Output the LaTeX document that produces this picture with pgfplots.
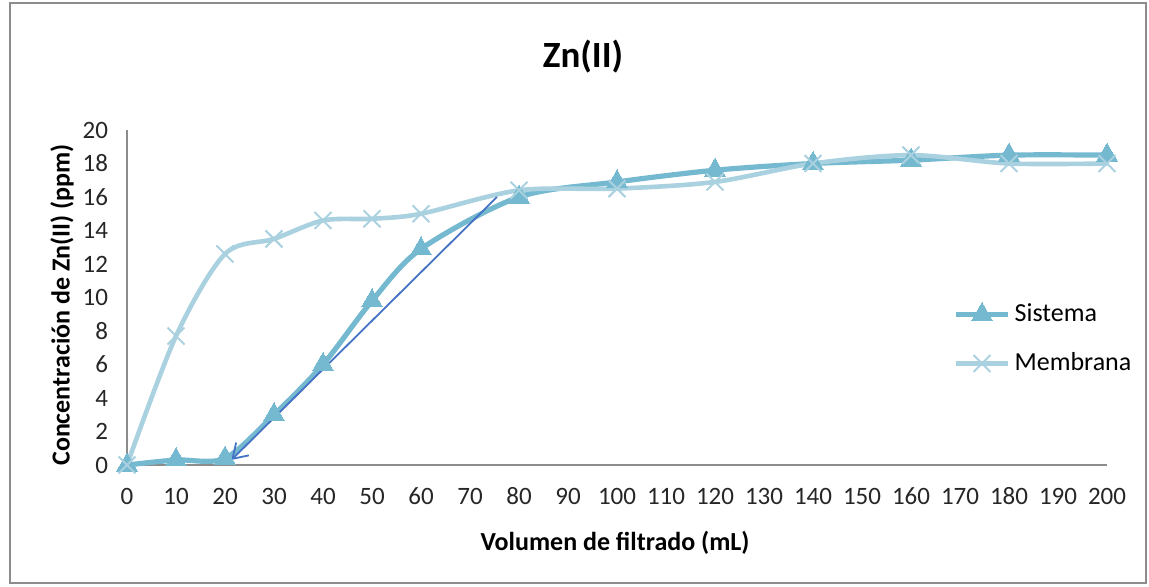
\documentclass[border=0pt]{standalone}
\usepackage{fontspec}
\setmainfont{Carlito}
\usepackage{pgfplots}
\pgfplotsset{compat=1.18}
\usetikzlibrary{arrows.meta}
\definecolor{sist}{HTML}{74B9CF}
\definecolor{memb}{HTML}{A9D1DF}
\definecolor{arr}{HTML}{4472C4}
\definecolor{axgray}{HTML}{8C8C8C}
\begin{document}
\begin{tikzpicture}
\useasboundingbox (-63.5pt,-60.5pt) rectangle (511pt,232.5pt);
\draw[axgray,line width=0.8pt] (-58.5pt,-59pt) rectangle (509.5pt,231pt);
\begin{axis}[
  at={(0pt,0pt)}, anchor=origin,
  scale only axis, width=490pt, height=167.5pt,
  xmin=0, xmax=200, ymin=0, ymax=20,
  xtick={0,10,...,200}, ytick={0,2,...,20},
  axis x line=bottom, axis y line=left,
  axis line style={axgray,line width=0.6pt,-},
  major tick length=0pt,
  /pgf/number format/assume math mode=true,
  ticklabel style={font=\fontsize{12.5}{13}\selectfont, text=black!85},
  xticklabel style={yshift=-7pt, text height=9pt, text depth=0pt},
  yticklabel style={xshift=-6pt},
  clip=false,
  legend style={draw=none, fill=none, at={(413pt,63pt)}, anchor=west,
    font=\fontsize{13}{14}\selectfont, row sep=10pt, inner sep=0pt},
  legend cell align=left,
  legend image code/.code={\draw[mark repeat=2,mark phase=2] plot coordinates {(0pt,0pt) (13pt,0pt) (26pt,0pt)};},
]
\addplot[sist, line width=2.6pt, smooth, tension=0.5, mark=triangle*,
  mark size=6pt, mark options={solid, line width=0pt, fill=sist}]
  coordinates {(0,0) (10,0.3) (20,0.4) (30,3.0) (40,6.0) (50,9.8) (60,12.9)
  (80,16.0) (100,16.9) (120,17.6) (140,18.0) (160,18.2) (180,18.5) (200,18.5)};
\addlegendentry{Sistema}
\addplot[memb, line width=2.3pt, smooth, tension=0.5, mark=x,
  mark size=6pt, mark options={solid, line width=1pt}]
  coordinates {(0,0) (10,7.7) (20,12.6) (30,13.5) (40,14.6) (50,14.7) (60,15.0)
  (80,16.4) (100,16.5) (120,16.9) (140,18.0) (160,18.5) (180,18.0) (200,18.0)};
\addlegendentry{Membrana}
\draw[arr, line width=0.9pt, -{Straight Barb[length=7pt,width=9pt]}]
  (axis cs:75.5,16.0) -- (axis cs:21.3,0.3);
\end{axis}
\node[font=\bfseries\fontsize{18.5}{20}\selectfont] at (228pt,204pt) {Zn(II)};
\node[font=\bfseries\fontsize{13}{14}\selectfont, rotate=90] at (-32.5pt,80pt) {Concentración de Zn(II) (ppm)};
\node[font=\bfseries\fontsize{13}{14}\selectfont] at (244pt,-39pt) {Volumen de filtrado (mL)};
\end{tikzpicture}
\end{document}
